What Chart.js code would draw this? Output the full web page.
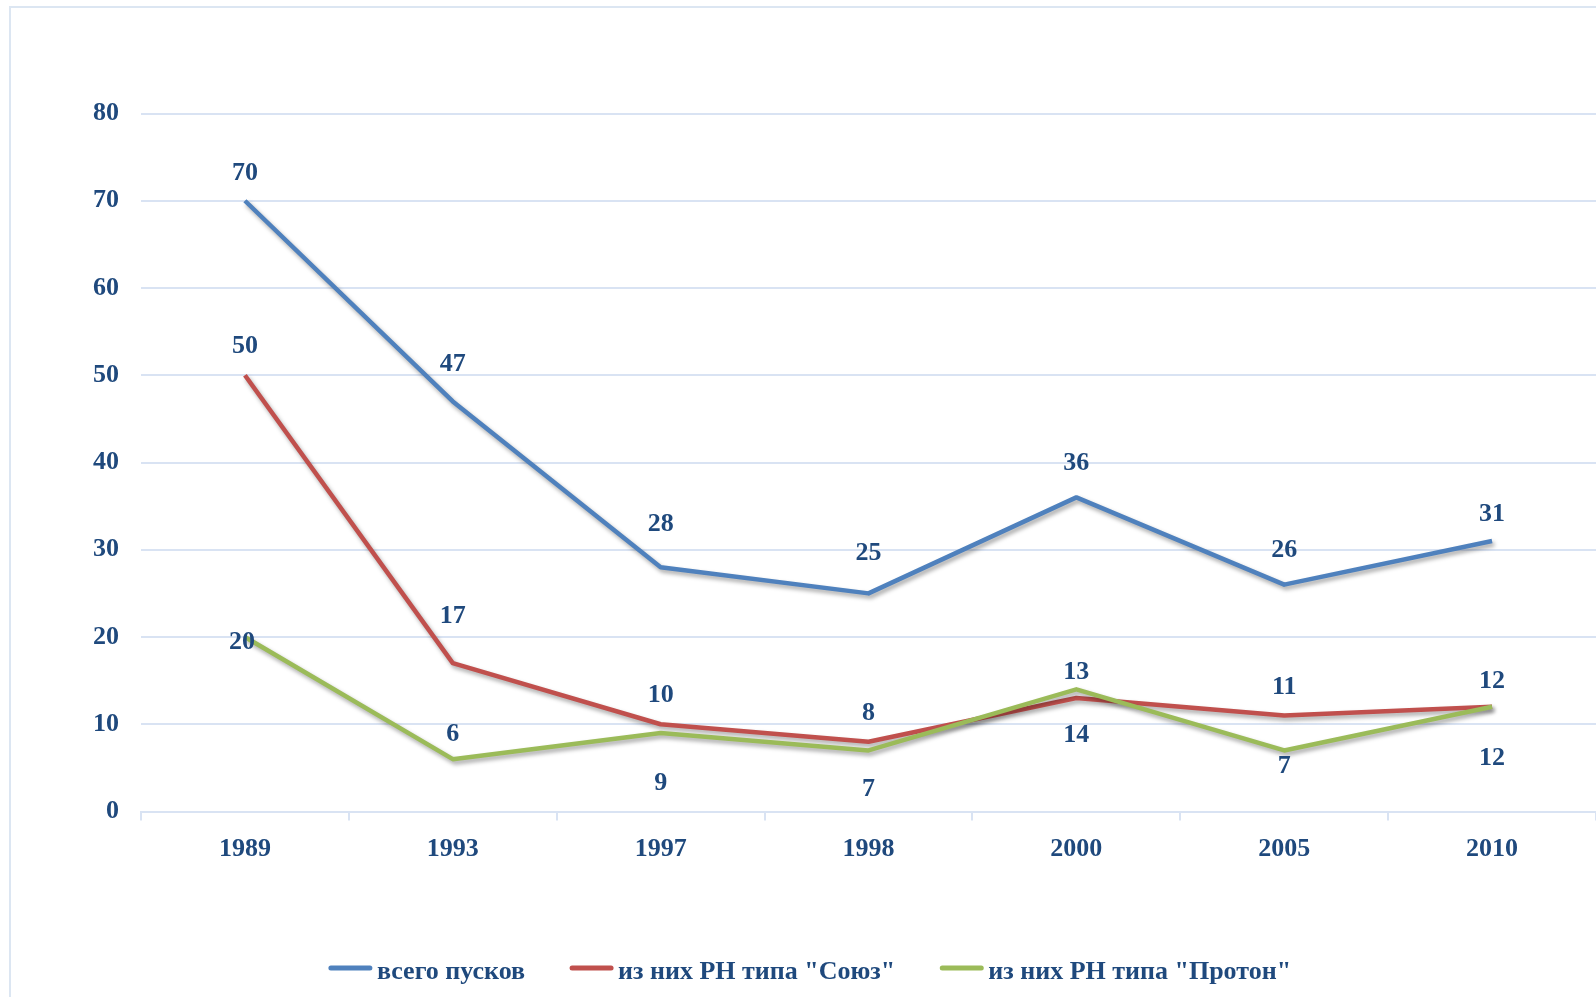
<!DOCTYPE html>
<html>
<head>
<meta charset="utf-8">
<script src="https://cdn.jsdelivr.net/npm/chart.js@4/dist/chart.umd.min.js"></script>
<style>
  html, body { margin: 0; background: #fff; overflow: hidden; }
  #frame { position: absolute; left: 9px; top: 6px; width: 1700px; height: 1100px; border: 2px solid #DCE6F2; }
  #wrap { position: absolute; left: 0; top: 0; }
</style>
</head>
<body>
<div id="frame"></div>
<div id="wrap"><canvas id="launches" width="1596" height="997"></canvas></div>
<script>
const years  = ["1989", "1993", "1997", "1998", "2000", "2005", "2010"];
const total  = [70, 47, 28, 25, 36, 26, 31];
const soyuz  = [50, 17, 10, 8, 13, 11, 12];
const proton = [20, 6, 9, 7, 14, 7, 12];
const seriesNames = ["всего пусков", "из них РН типа \"Союз\"", "из них РН типа \"Протон\""];

const NAVY = "#1F497D";
const GRID = "#D9E3F3";
const FONT = "'Liberation Serif', 'Times New Roman', serif";

// where each value label sits relative to its point (px)
const labelShift = [
  [[0,-27],[0,-37],[0,-43],[0,-40],[0,-34],[0,-34],[0,-27]],
  [[0,-29],[0,-47],[0,-29],[0,-28],[0,-26],[0,-28],[0,-26]],
  [[-3,5],[0,-25],[0,50],[0,39],[0,46],[0,16],[0,51]]
];

const lineShadow = {
  id: "lineShadow",
  beforeDatasetDraw(chart) {
    const c = chart.ctx;
    c.save();
    c.shadowColor = "rgba(0,0,0,0.35)";
    c.shadowBlur = 4;
    c.shadowOffsetX = 2;
    c.shadowOffsetY = 3;
  },
  afterDatasetDraw(chart) { chart.ctx.restore(); }
};

const valueLabels = {
  id: "valueLabels",
  afterDatasetsDraw(chart) {
    const c = chart.ctx;
    c.save();
    c.font = "bold 26px " + FONT;
    c.fillStyle = NAVY;
    c.textAlign = "center";
    c.textBaseline = "middle";
    chart.data.datasets.forEach((ds, di) => {
      chart.getDatasetMeta(di).data.forEach((pt, i) => {
        const [dx, dy] = labelShift[di][i];
        c.fillText(ds.data[i], pt.x + dx, pt.y + dy);
      });
    });
    c.restore();
  }
};

const bottomLegend = {
  id: "bottomLegend",
  afterDraw(chart) {
    const c = chart.ctx;
    const sets = chart.data.datasets;
    c.save();
    c.font = "bold 26px " + FONT;
    const lineW = 43, gapText = 5, gapItem = 45;
    const widths = sets.map(d => c.measureText(d.label).width);
    const full = widths.reduce((a, w) => a + lineW + gapText + w, 0) + gapItem * (sets.length - 1);
    let x = 810 - full / 2;
    const y = 972;
    sets.forEach((d, i) => {
      c.strokeStyle = d.borderColor;
      c.lineWidth = 5;
      c.lineCap = "round";
      c.beginPath();
      c.moveTo(x + 2, y - 4);
      c.lineTo(x + lineW - 2, y - 4);
      c.stroke();
      c.fillStyle = NAVY;
      c.textBaseline = "middle";
      c.fillText(d.label, x + lineW + gapText, y);
      x += lineW + gapText + widths[i] + gapItem;
    });
    c.restore();
  }
};

const tickFont = { family: FONT, size: 26, weight: "bold" };

new Chart(document.getElementById("launches"), {
  type: "line",
  data: {
    labels: years,
    datasets: [
      { label: seriesNames[0], data: total,  borderColor: "#4F81BD", order: 3 },
      { label: seriesNames[1], data: soyuz,  borderColor: "#C0504D", order: 2 },
      { label: seriesNames[2], data: proton, borderColor: "#9BBB59", order: 1 }
    ]
  },
  options: {
    responsive: false,
    animation: false,
    datasets: { line: { borderWidth: 4.5, pointRadius: 0, tension: 0, borderJoinStyle: "round", fill: false } },
    layout: { padding: { top: 113.5, left: 0, right: 0, bottom: 125.5 } },
    plugins: { legend: { display: false }, tooltip: { enabled: false } },
    scales: {
      x: {
        offset: true,
        grid: { offset: true, drawOnChartArea: false, drawTicks: true, tickLength: 9, color: GRID, lineWidth: 2 },
        border: { color: GRID, width: 2 },
        ticks: { color: NAVY, font: tickFont, padding: 13, maxRotation: 0 },
        afterFit(s) { s.height = 60; }
      },
      y: {
        min: 0, max: 80,
        ticks: { stepSize: 10, color: NAVY, font: tickFont, padding: 22 },
        grid: { color: GRID, lineWidth: 2, drawTicks: false },
        border: { display: false },
        afterFit(s) { s.width = 141; }
      }
    }
  },
  plugins: [lineShadow, valueLabels, bottomLegend]
});
</script>
</body>
</html>
